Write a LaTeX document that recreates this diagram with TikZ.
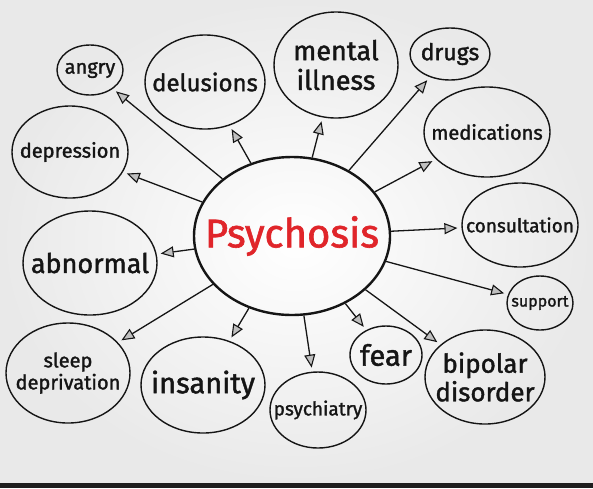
\documentclass[tikz,border=0pt]{standalone}
\usepackage{fontspec}
\setmainfont{Fira Sans}[FakeBold=1.5]
\usepackage{xcolor,tikz}
\usetikzlibrary{arrows.meta,shapes.geometric}
\definecolor{ink}{HTML}{151515}
\definecolor{alert}{HTML}{E0252A}
\definecolor{paper}{HTML}{E9E9E9}
\definecolor{bar}{HTML}{1E1E1E}

\begin{document}
\begin{tikzpicture}[x=1pt,y=-1pt,
bub/.style n args={4}{draw=ink,ellipse,line width=1.4pt,inner sep=0pt,
minimum width=#1pt,minimum height=#2pt,
label={[align=center,text=ink,font=\fontsize{#3}{1.1\dimexpr#3pt\relax}\selectfont]center:#4}},
arr/.style={-{Triangle[length=13pt,width=11pt,line width=1.1pt,fill=gray!50]},line width=1.3pt,draw=ink,shorten >=4pt}]
\useasboundingbox (0,0) rectangle (593,488);
\fill[inner color=white,outer color=paper] (0,0) rectangle (593,483);
\fill[bar] (0,483) rectangle (593,488);
\node[draw=ink,ellipse,line width=2.4pt,minimum width=196pt,minimum height=158pt,inner sep=0pt,
label={[text=alert,font=\fontsize{40}{40}\selectfont]center:Psychosis}] (psy) at (292,236) {};
\node[bub={66}{50}{20}{angry}] (angry) at (90,70) {};
\node[bub={120}{94}{24}{delusions}] (delus) at (205,82) {};
\node[bub={124}{106}{27}{mental\\illness}] (mental) at (336,65) {};
\node[bub={80}{52}{23}{drugs}] (drugs) at (450,54) {};
\node[bub={126}{90}{20}{medications}] (meds) at (487,132) {};
\node[bub={116}{84}{19}{consultation}] (consult) at (520,225) {};
\node[bub={66}{54}{16}{support}] (support) at (540,303) {};
\node[bub={120}{94}{26}{bipolar\\disorder}] (bipolar) at (485,377) {};
\node[bub={72}{58}{29}{fear}] (fear) at (386,355) {};
\node[bub={96}{76}{19}{psychiatry}] (psychiatry) at (318,410) {};
\node[bub={124}{96}{29}{insanity}] (insanity) at (203,385) {};
\node[bub={124}{100}{20}{sleep\\deprivation}] (sleep) at (68,373) {};
\node[bub={134}{104}{27}{abnormal}] (abnormal) at (90,263) {};
\node[bub={116}{92}{20}{depression}] (depress) at (70,152) {};
\draw[arr] (psy) -- (angry);
\draw[arr] (psy) -- (delus);
\draw[arr] (psy) -- (mental);
\draw[arr] (psy) -- (drugs);
\draw[arr] (psy) -- (meds);
\draw[arr] (psy) -- (consult);
\draw[arr] (psy) -- (support);
\draw[arr] (psy) -- (bipolar);
\draw[arr] (psy) -- (fear);
\draw[arr] (psy) -- (psychiatry);
\draw[arr] (psy) -- (insanity);
\draw[arr] (psy) -- (sleep);
\draw[arr] (psy) -- (abnormal);
\draw[arr] (psy) -- (depress);
\end{tikzpicture}
\end{document}
